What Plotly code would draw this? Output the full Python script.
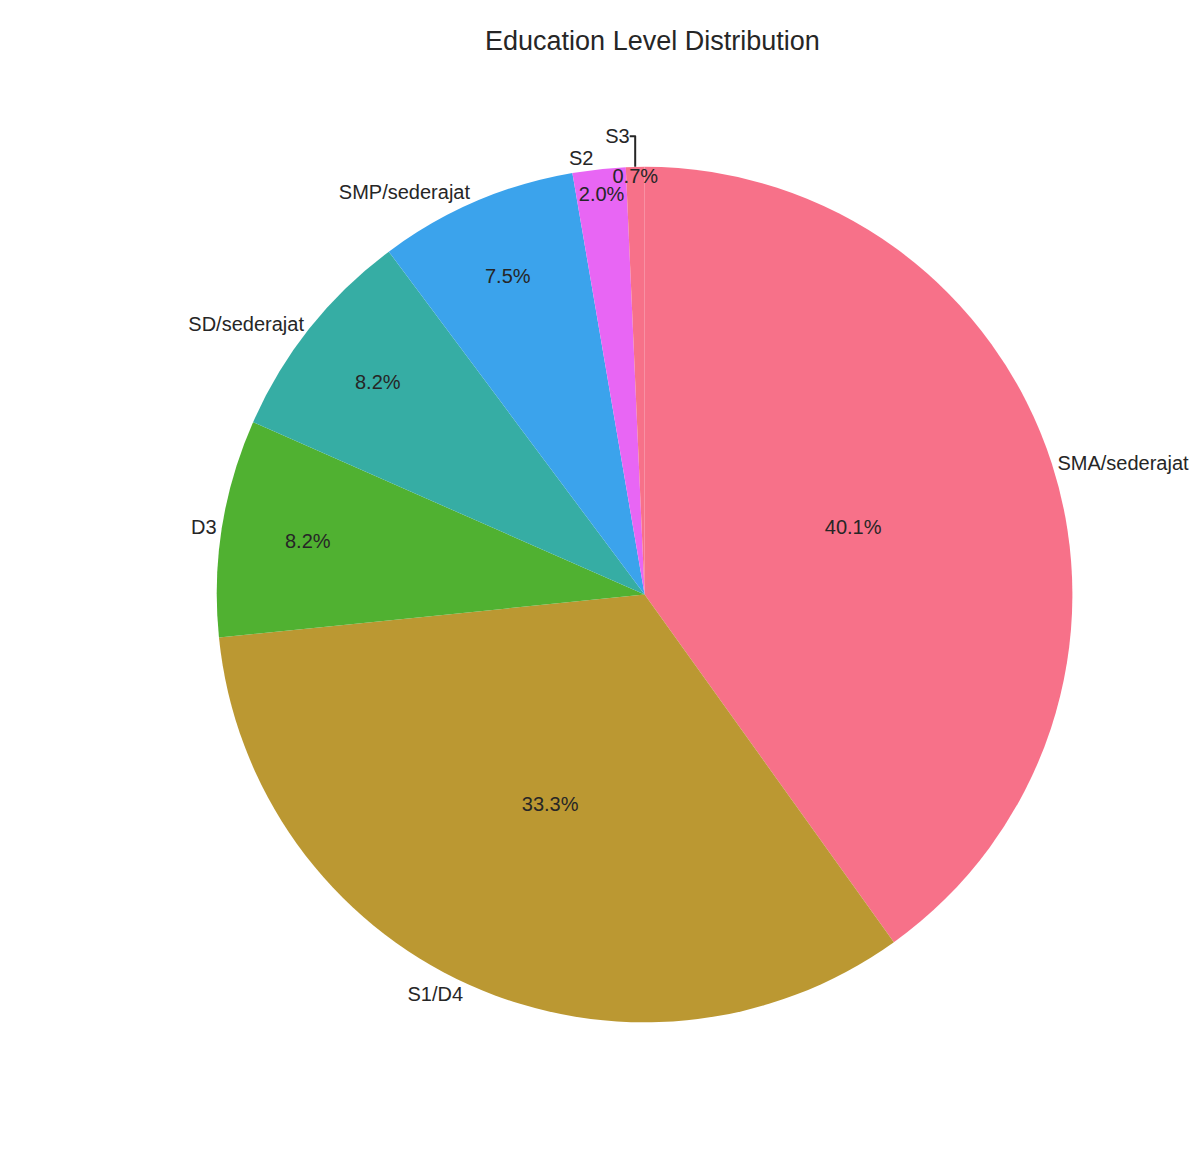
import plotly.graph_objects as go

labels = ["SMA/sederajat", "S1/D4", "D3", "SD/sederajat", "SMP/sederajat", "S2", "S3"]
values = [40.1, 33.3, 8.2, 8.2, 7.5, 2.0, 0.7]
colors = ["#f77189", "#bb9832", "#50b131", "#36ada4", "#3ba3ec", "#e866f4", "#f77189"]

dom = dict(x=[0.174, 0.887], y=[0.117, 0.862])
font = dict(family="Arial, Liberation Sans", size=20, color="#262626")

fig = go.Figure()
# slices with percentages inside
fig.add_trace(go.Pie(labels=labels, values=values, sort=False, direction="clockwise",
                     rotation=0, marker=dict(colors=colors), textinfo="percent",
                     texttemplate="%{value:.1f}%", textposition="inside",
                     insidetextorientation="horizontal", textfont=font,
                     domain=dom, showlegend=False, automargin=False, hoverinfo="label+value"))
# transparent copy for outside labels
fig.add_trace(go.Pie(labels=labels, values=values, sort=False, direction="clockwise",
                     rotation=0, marker=dict(colors=["rgba(0,0,0,0)"] * len(values)),
                     textinfo="label", textposition="outside", textfont=font,
                     domain=dom, showlegend=False, automargin=False, hoverinfo="skip"))

fig.update_layout(width=1200, height=1149, paper_bgcolor="white",
                  margin=dict(l=0, r=0, t=0, b=0),
                  uniformtext=dict(minsize=20, mode="show"),
                  title=dict(text="Education Level Distribution", x=0.537, y=0.972,
                             xanchor="center", yanchor="middle",
                             font=dict(family="Arial, Liberation Sans", size=27, color="#262626")))
fig.write_html("out.html")
